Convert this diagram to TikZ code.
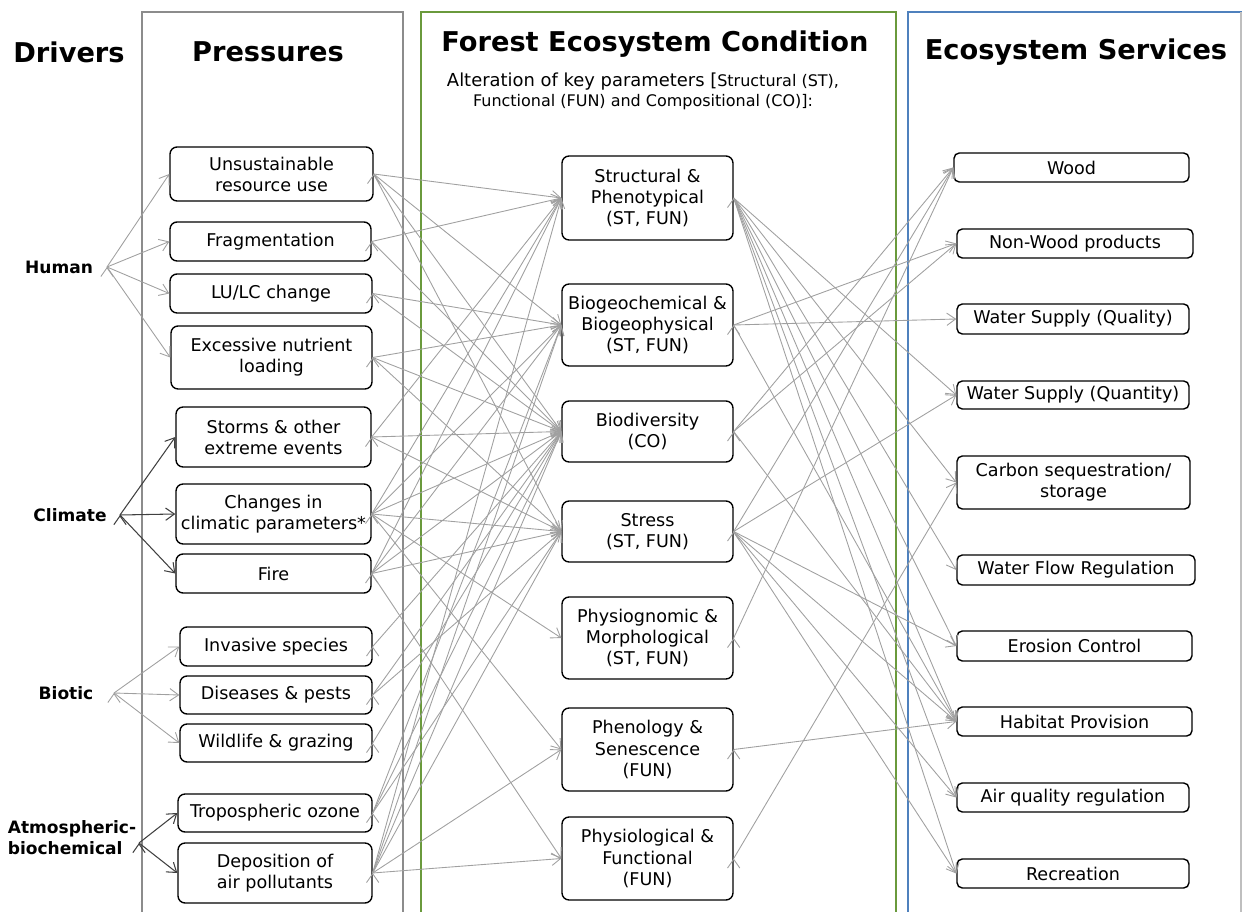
\documentclass[tikz,border=0pt]{standalone}
\usepackage{fontspec}
\setmainfont{DejaVu Sans}
\usetikzlibrary{%
  arrows.meta,%
}

\definecolor{framegray}{HTML}{8C8C8C}
\definecolor{framegreen}{HTML}{6A9A3C}
\definecolor{frameblue}{HTML}{4F81BD}
\definecolor{linkgray}{HTML}{A0A0A0}

\tikzset{
  box/.style={draw=black, line width=0.8pt, rounded corners=4pt, align=center,
    inner sep=1pt, font=\fontsize{10}{12}\selectfont},
  svbox/.style={box, rounded corners=3pt},
  hdr/.style={font=\fontsize{15.5}{18}\selectfont\bfseries},
  drv/.style={font=\fontsize{9.7}{12}\selectfont\bfseries, align=left},
  link/.style={draw=linkgray, line width=0.5pt, -{Straight Barb[length=5pt, width=7pt]}},
  dlink/.style={draw=black!75, line width=0.6pt, -{Straight Barb[length=5pt, width=7pt]}},
}

\begin{document}
\begin{tikzpicture}[x=0.02cm, y=-0.02cm]

      \useasboundingbox (0, 0) rectangle (1242, 912);

      \draw [framegray, line width=1pt] (142, 912) -- (142, 12) -- (403, 12) -- (403, 912);
      \draw [framegreen, line width=0.8pt] (421, 912) -- (421, 12) -- (896, 12) -- (896, 912);
      \draw [frameblue, line width=0.9pt] (908, 912) -- (908, 12) -- (1242, 12);
      \draw [black!25, line width=0.6pt] (1241, 12) -- (1241, 912);

      \node [hdr] (hdDrivers) at (69, 52) {Drivers};
      \node [hdr] (hdPress) at (268, 52) {Pressures};
      \node [hdr] (hdForest) at (655, 44) {Forest Ecosystem Condition};
      \node [hdr] (hdServ) at (1076, 52) {Ecosystem Services};
      \node [align=center, font=\fontsize{10.2}{11.5}\selectfont] (subtitle) at (643, 91)
        {Alteration of key parameters [{\fontsize{9.1}{11.5}\selectfont Structural (ST),} \\
         {\fontsize{9.1}{11.5}\selectfont Functional (FUN) and Compositional (CO)]:}};

      \node [drv] (drHuman) at (59, 267) {Human};
      \node [drv] (drClimate) at (70, 515) {Climate};
      \node [drv] (drBiotic) at (66, 693) {Biotic};
      \node [drv] (drAtmos) at (72, 838) {Atmospheric-\\biochemical};
      \coordinate (hubHuman) at (107, 267);
      \coordinate (hubClimate) at (120, 515);
      \coordinate (hubBiotic) at (114, 693);
      \coordinate (hubAtmos) at (139, 843);

      \node [box, minimum width=4.06cm, minimum height=1.08cm] (prUnsust) at (271.5, 174)
        {Unsustainable \\ resource use};
      \node [box, minimum width=4.02cm, minimum height=0.78cm] (prFrag) at (270.5, 241.5)
        {Fragmentation};
      \node [box, minimum width=4.04cm, minimum height=0.78cm] (prLulc) at (271, 293.5)
        {LU/LC change};
      \node [box, minimum width=4.02cm, minimum height=1.26cm] (prNutr) at (271.5, 357.5)
        {Excessive nutrient \\ loading};
      \node [box, minimum width=3.9cm, minimum height=1.2cm] (prStorm) at (273.5, 437)
        {Storms \& other \\ extreme events};
      \node [box, minimum width=3.9cm, minimum height=1.2cm] (prClim) at (273.5, 514)
        {Changes in \\ climatic parameters*};
      \node [box, minimum width=3.9cm, minimum height=0.78cm] (prFire) at (273.5, 573.5)
        {Fire};
      \node [box, minimum width=3.84cm, minimum height=0.78cm] (prInv) at (276, 646.5)
        {Invasive species};
      \node [box, minimum width=3.84cm, minimum height=0.76cm] (prDis) at (276, 695)
        {Diseases \& pests};
      \node [box, minimum width=3.84cm, minimum height=0.76cm] (prWild) at (276, 743)
        {Wildlife \& grazing};
      \node [box, minimum width=3.88cm, minimum height=0.76cm] (prOzone) at (275, 813)
        {Tropospheric ozone};
      \node [box, minimum width=3.88cm, minimum height=1.2cm] (prDepo) at (275, 873)
        {Deposition of \\ air pollutants};

      \node [box, minimum width=3.42cm, minimum height=1.68cm] (cdStruct) at (647.5, 198)
        {Structural \& \\ Phenotypical \\ (ST, FUN)};
      \node [box, minimum width=3.42cm, minimum height=1.64cm] (cdBgc) at (647.5, 325)
        {Biogeochemical \& \\ Biogeophysical \\ (ST, FUN)};
      \node [box, minimum width=3.42cm, minimum height=1.22cm] (cdBiod) at (647.5, 431.5)
        {Biodiversity \\ (CO)};
      \node [box, minimum width=3.42cm, minimum height=1.22cm] (cdStress) at (647.5, 531.5)
        {Stress \\ (ST, FUN)};
      \node [box, minimum width=3.42cm, minimum height=1.64cm] (cdPhysg) at (647.5, 638)
        {Physiognomic \& \\ Morphological \\ (ST, FUN)};
      \node [box, minimum width=3.42cm, minimum height=1.66cm] (cdPhen) at (647.5, 749.5)
        {Phenology \& \\ Senescence \\ (FUN)};
      \node [box, minimum width=3.42cm, minimum height=1.66cm] (cdPhysl) at (647.5, 858.5)
        {Physiological \& \\ Functional \\ (FUN)};

      \node [svbox, minimum width=4.7cm, minimum height=0.58cm] (svWood) at (1071.5, 167.5) {Wood};
      \node [svbox, minimum width=4.72cm, minimum height=0.58cm] (svNonw) at (1075, 243.5) {Non-Wood products};
      \node [svbox, minimum width=4.64cm, minimum height=0.6cm] (svWql) at (1073, 319) {Water Supply (Quality)};
      \node [svbox, minimum width=4.64cm, minimum height=0.56cm] (svWqn) at (1073, 395) {Water Supply (Quantity)};
      \node [svbox, minimum width=4.66cm, minimum height=1.06cm] (svCarb) at (1073.5, 482.5)
        {Carbon sequestration/ \\ storage};
      \node [svbox, minimum width=4.76cm, minimum height=0.6cm] (svFlow) at (1076, 570) {Water Flow Regulation};
      \node [svbox, minimum width=4.7cm, minimum height=0.6cm] (svEros) at (1074.5, 646) {Erosion Control};
      \node [svbox, minimum width=4.7cm, minimum height=0.58cm] (svHab) at (1074.5, 721.5) {Habitat Provision};
      \node [svbox, minimum width=4.64cm, minimum height=0.58cm] (svAir) at (1073, 797.5) {Air quality regulation};
      \node [svbox, minimum width=4.64cm, minimum height=0.58cm] (svRec) at (1073, 873.5) {Recreation};

      \draw [link] (hubHuman) edge (prUnsust.west) edge (prFrag.west) edge (prLulc.west)
        edge (prNutr.west);
      \draw [dlink] (hubClimate) edge (prStorm.west) edge (prClim.west) edge (prFire.west);
      \draw [link] (hubBiotic) edge (prInv.west) edge (prDis.west) edge (prWild.west);
      \draw [dlink] (hubAtmos) edge (prOzone.west) edge (prDepo.west);

      \draw [link] (prUnsust.east) edge (cdStruct.west) edge (cdBgc.west) edge (cdBiod.west)
        edge (cdStress.west);
      \draw [link] (prFrag.east) edge (cdStruct.west) edge (cdBiod.west);
      \draw [link] (prLulc.east) edge (cdBgc.west) edge (cdBiod.west);
      \draw [link] (prNutr.east) edge (cdBgc.west) edge (cdBiod.west) edge (cdStress.west);
      \draw [link] (prStorm.east) edge (cdStruct.west) edge (cdBiod.west) edge (cdStress.west);
      \draw [link] (prClim.east) edge (cdStruct.west) edge (cdBgc.west) edge (cdBiod.west)
        edge (cdStress.west) edge (cdPhysg.west) edge (cdPhen.west);
      \draw [link] (prFire.east) edge (cdStruct.west) edge (cdBgc.west) edge (cdBiod.west)
        edge (cdStress.west) edge (cdPhysl.west);
      \draw [link] (prInv.east) edge (cdBiod.west);
      \draw [link] (prDis.east) edge (cdBiod.west) edge (cdStress.west);
      \draw [link] (prWild.east) edge (cdBiod.west);
      \draw [link] (prOzone.east) edge (cdBgc.west) edge (cdBiod.west) edge (cdStress.west);
      \draw [link] (prDepo.east) edge (cdStruct.west) edge (cdBgc.west) edge (cdBiod.west)
        edge (cdStress.west) edge (cdPhen.west) edge (cdPhysl.west);

      \draw [link] (cdStruct.east) edge (svWqn.west) edge (svCarb.west) edge (svFlow.west)
        edge (svEros.west) edge (svHab.west) edge (svAir.west) edge (svRec.west);
      \draw [link] (cdBgc.east) edge (svNonw.west) edge (svWql.west) edge (svHab.west);
      \draw [link] (cdBiod.east) edge (svWood.west) edge (svNonw.west) edge (svHab.west);
      \draw [link] (cdStress.east) edge (svWood.west) edge (svWqn.west) edge (svEros.west)
        edge (svHab.west) edge (svAir.west) edge (svRec.west);
      \draw [link] (cdPhysg.east) edge (svWood.west);
      \draw [link] (cdPhen.east) edge (svHab.west);
      \draw [link] (cdPhysl.east) edge (svCarb.west);

    \end{tikzpicture}
\end{document}
